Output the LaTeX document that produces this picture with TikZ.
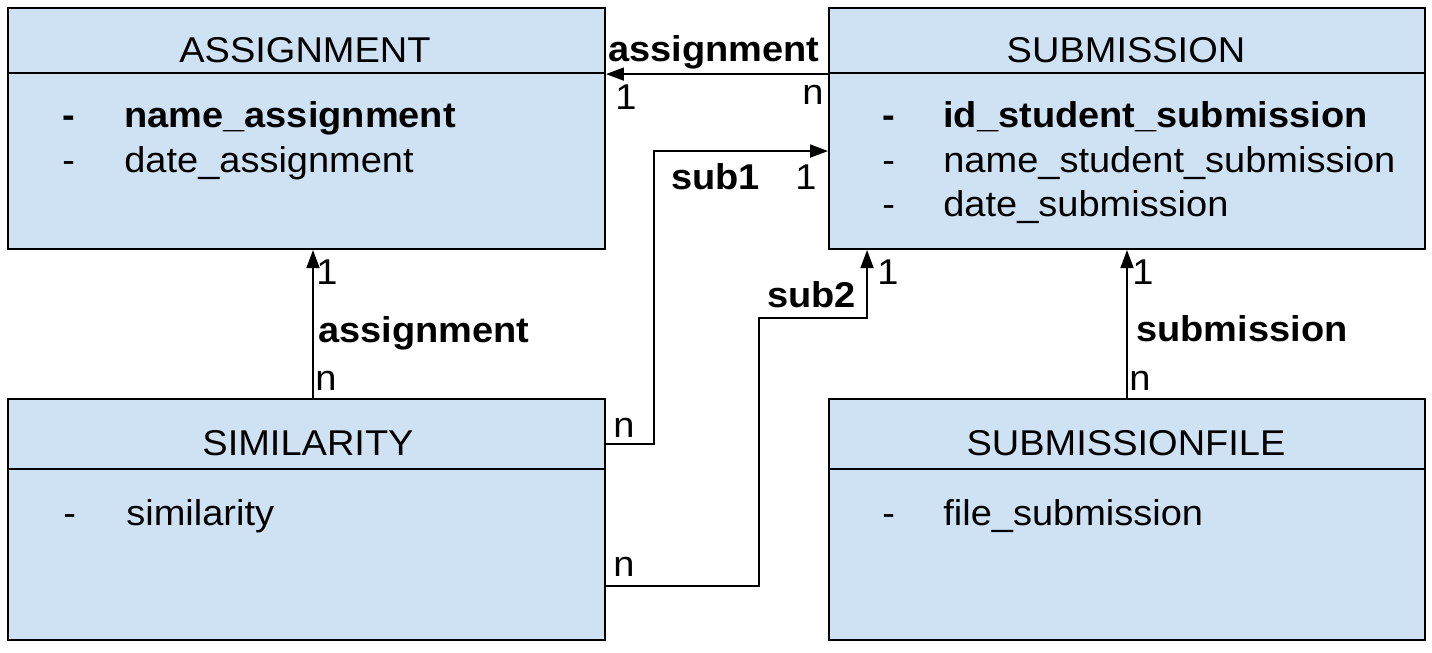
\documentclass[tikz,border=0pt]{standalone}
\usepackage{fontspec}
\setmainfont{Liberation Sans}[FakeStretch=1.06]
\usetikzlibrary{arrows.meta,calc}
\definecolor{boxfill}{HTML}{CFE2F3}
\begin{document}
\begin{tikzpicture}[x=0.02cm,y=-0.02cm,
  every node/.style={font=\fontsize{20.4}{25}\selectfont},
  part/.style={draw=black,line width=1.2pt,fill=boxfill,rectangle,inner sep=0pt,anchor=north west},
  txt/.style={anchor=base west,inner sep=0pt},
  ttl/.style={anchor=base,inner sep=0pt},
  lbl/.style={anchor=base west,inner sep=0pt,font=\fontsize{20.4}{25}\selectfont\bfseries},
  card/.style={anchor=base west,inner sep=0pt},
  arr/.style={draw=black,line width=1pt,-{Triangle[length=0.36cm,width=0.26cm]}}]
\useasboundingbox (0,0) rectangle (1432,652);
\fill[white] (0,0) rectangle (1432,652);
% boxes
\node[part,minimum width=11.94cm,minimum height=1.3cm] (asgH) at (7,7) {};
\node[part,minimum width=11.94cm,minimum height=3.52cm] (asgB) at (7,72) {};
\node[part,minimum width=11.92cm,minimum height=1.3cm] (subH) at (828,7) {};
\node[part,minimum width=11.92cm,minimum height=3.52cm] (subB) at (828,72) {};
\node[part,minimum width=11.94cm,minimum height=1.4cm] (simH) at (7,398) {};
\node[part,minimum width=11.94cm,minimum height=3.42cm] (simB) at (7,468) {};
\node[part,minimum width=11.92cm,minimum height=1.4cm] (sfH) at (828,398) {};
\node[part,minimum width=11.92cm,minimum height=3.42cm] (sfB) at (828,468) {};
% titles
\node[ttl] (t1) at (305,63) {ASSIGNMENT};
\node[ttl] (t2) at (1126,63) {SUBMISSION};
\node[ttl] (t3) at (308,455) {SIMILARITY};
\node[ttl] (t4) at (1126,455) {SUBMISSIONFILE};
% attributes
\node[txt] (a1d) at (62,128) {\bfseries -};
\node[txt] (a1) at (124,128) {\bfseries name\_assignment};
\node[txt] (a2d) at (62,172) {-};
\node[txt] (a2) at (124,172) {date\_assignment};
\node[txt] (s1d) at (882,128) {\bfseries -};
\node[txt] (s1) at (943,128) {\bfseries id\_student\_submission};
\node[txt] (s2d) at (882,172) {-};
\node[txt] (s2) at (943,172) {name\_student\_submission};
\node[txt] (s3d) at (882,216) {-};
\node[txt] (s3) at (943,216) {date\_submission};
\node[txt] (m1d) at (63,525) {-};
\node[txt] (m1) at (126,525) {similarity};
\node[txt] (f1d) at (882,525) {-};
\node[txt] (f1) at (943,525) {file\_submission};
% connectors
\draw[arr] (subH.south west) -- (asgH.south east);
\coordinate (s1a) at ([yshift=-0.2cm]simH.east);
\draw[arr] (s1a) -- ++(48,0) |- ([yshift=0.2cm]subB.west);
\coordinate (s2a) at ([yshift=-0.63cm]simB.east);
\coordinate (s2e) at ([xshift=-5.2cm]subB.south);
\draw[arr] (s2a) -- ++(153,0) |- ([yshift=-1.36cm]s2e) -- (s2e);
\draw[arr] ([xshift=0.13cm]simH.north) -- ([xshift=0.13cm]asgB.south);
\draw[arr] (sfH.north) -- (subB.south);
% connector labels
\node[lbl] (l1) at (608,62) {assignment};
\node[card] (c1a) at (615,110) {1};
\node[card] (c1b) at (802,105) {n};
\node[lbl] (l2) at (671,189) {sub1};
\node[card] (c2a) at (795,189) {1};
\node[card] (c2b) at (613,437) {n};
\node[lbl] (l3) at (767,307) {sub2};
\node[card] (c3a) at (877,284) {1};
\node[card] (c3b) at (613,576) {n};
\node[lbl] (l4) at (318,342) {assignment};
\node[card] (c4a) at (316,284) {1};
\node[card] (c4b) at (315,390) {n};
\node[lbl] (l5) at (1136,341) {submission};
\node[card] (c5a) at (1132,284) {1};
\node[card] (c5b) at (1129,390) {n};
\end{tikzpicture}
\end{document}
